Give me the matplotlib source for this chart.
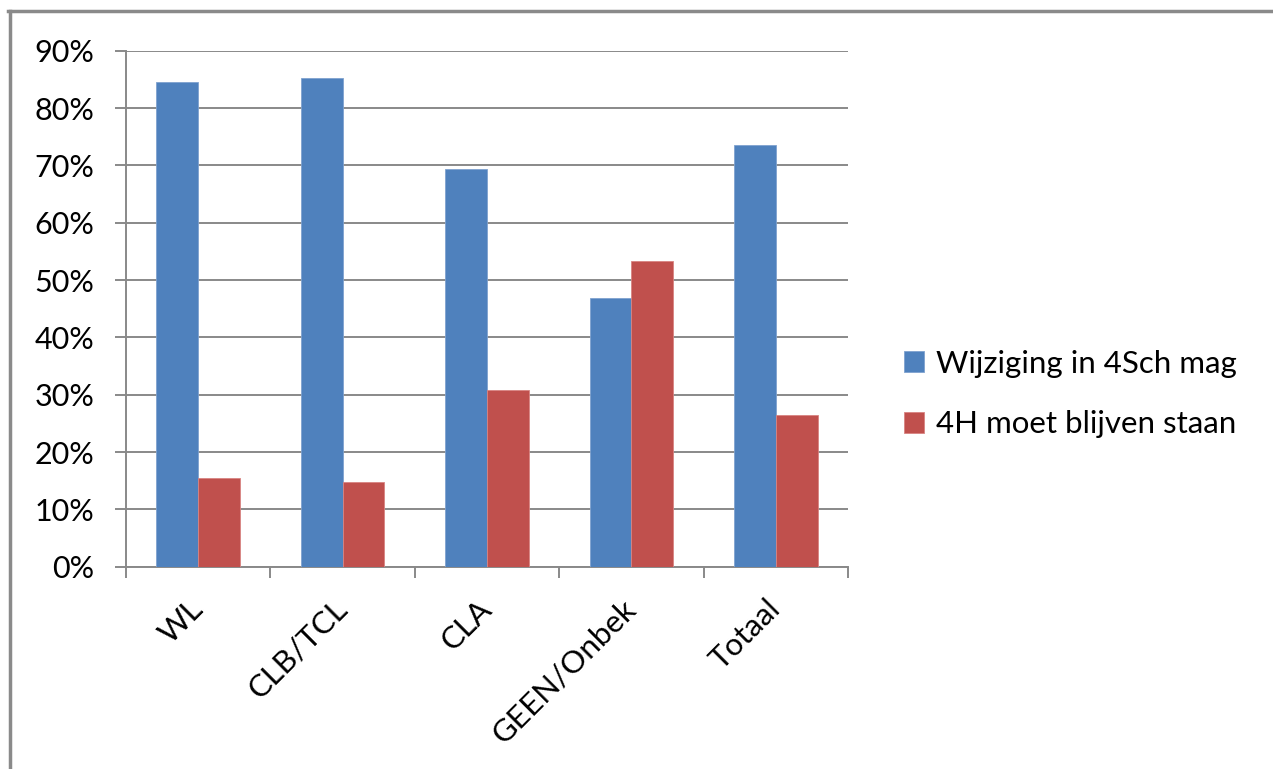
import matplotlib
matplotlib.use("Agg")
import matplotlib.pyplot as plt
from matplotlib.lines import Line2D
from matplotlib.ticker import FixedLocator, FuncFormatter
import numpy as np

plt.rcParams['font.family'] = ['Lato', 'DejaVu Sans']

categories = ["WL", "CLB/TCL", "CLA", "GEEN/Onbek", "Totaal"]
wijziging = [84.6, 85.3, 69.3, 46.8, 73.6]
blijven = [15.4, 14.8, 30.8, 53.3, 26.4]
series_names = ["Wijziging in 4Sch mag", "4H moet blijven staan"]
yticks = [0, 10, 20, 30, 40, 50, 60, 70, 80, 90]

blue = "#4F81BD"
red = "#C0504D"
grid_c = "#898989"

fig = plt.figure(figsize=(12.73, 7.69), dpi=100)
ax = fig.add_axes([126/1273, 1-566.7/769, (848-126)/1273, (566.7-50.7)/769])

x = np.arange(len(categories))
w = 0.29
ax.bar(x - w/2, wijziging, width=w, color=blue, label=series_names[0], zorder=3,
       edgecolor="#7FA2CF", linewidth=0.6)
ax.bar(x + w/2, blijven, width=w, color=red, label=series_names[1], zorder=3,
       edgecolor="#D88482", linewidth=0.6)

ax.set_xlim(-0.5, len(categories) - 0.5)
ax.set_ylim(0, 90)
ax.yaxis.set_major_locator(FixedLocator(yticks))
ax.yaxis.set_major_formatter(FuncFormatter(lambda v, p: f"{int(round(v))}%"))
ax.grid(axis='y', color=grid_c, linewidth=1.4, zorder=0)

ax.set_xticks(x)
ax.set_xticklabels(categories, rotation=45, ha='right', va='center', rotation_mode='anchor')
ax.set_xticks(np.arange(-0.5, len(categories), 1.0), minor=True)
ax.tick_params(axis='x', which='major', length=0, pad=27, labelsize=22.5, colors='black')
ax.tick_params(axis='x', which='minor', length=8, width=1.4, color=grid_c, direction='out')
ax.tick_params(axis='y', length=8, width=1.4, color=grid_c, direction='out', labelsize=22, pad=15)

for s in ['top', 'right']:
    ax.spines[s].set_visible(False)
for s in ['left', 'bottom']:
    ax.spines[s].set_color(grid_c)
    ax.spines[s].set_linewidth(1.4)

leg = ax.legend(loc='center left', bbox_to_anchor=(876/1273, 1-394/769),
                bbox_transform=fig.transFigure, frameon=False, fontsize=22.5,
                handlelength=0.62, handleheight=0.62, handletextpad=0.4,
                labelspacing=1.05)

# outer chart border
fig.add_artist(Line2D([8/1273, 1.0], [1-10.5/769, 1-10.5/769], color="#8A8A8A", linewidth=2.5,
                      transform=fig.transFigure))
fig.add_artist(Line2D([9.5/1273, 9.5/1273], [1-10.5/769, 0.0], color="#8A8A8A", linewidth=2.5,
                      transform=fig.transFigure))

fig.savefig("out.png", dpi=100)
